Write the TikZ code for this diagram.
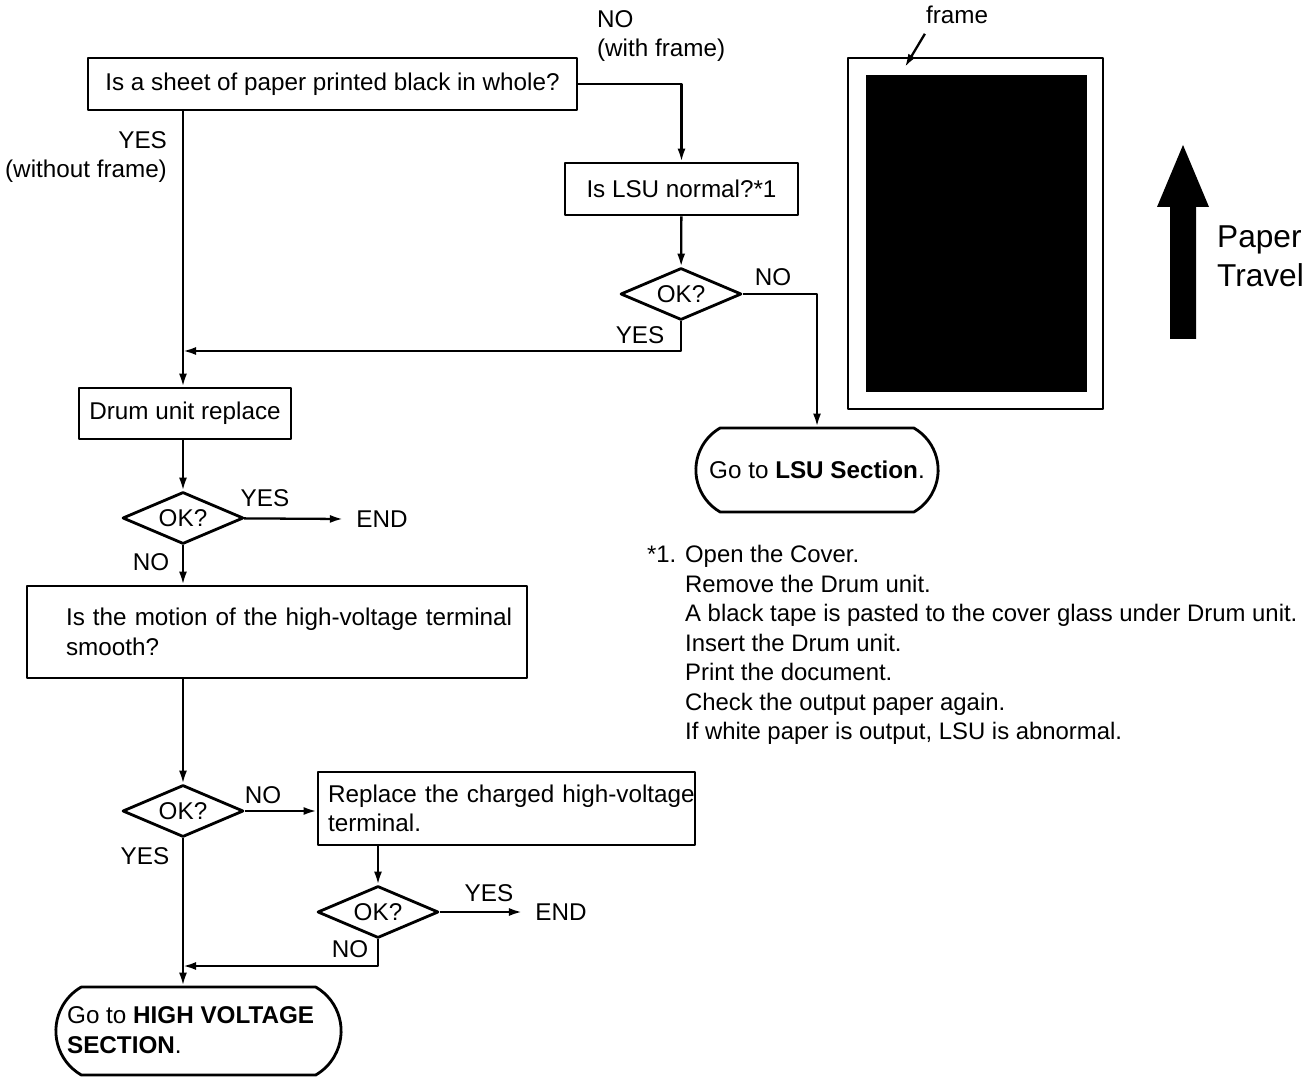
\documentclass[tikz,border=0pt]{standalone}
\usepackage{fontspec}
\setmainfont{Liberation Sans}
\usetikzlibrary{shapes.geometric,shapes.misc,arrows.meta}
\tikzset{
  box/.style={draw,line width=1.6pt},
  okbox/.style={diamond,draw,line width=1.6pt,aspect=2.3,inner sep=0pt,minimum width=2.42cm,minimum height=1.04cm},
  gotobox/.style={rounded rectangle,rounded rectangle arc length=120,draw,line width=1.6pt},
  lbl/.style={inner sep=0pt}
}
\begin{document}
\begin{tikzpicture}[x=0.02cm,y=-0.02cm,>={Latex[length=2.6mm,width=1.6mm]},line width=1.3pt,
  font=\fontsize{13.8}{16.8}\selectfont,line join=round]
\useasboundingbox (0,0) rectangle (1311,1077);
\path
  (183,351) coordinate (j1)
  (183,966) coordinate (j2)
  (905,67) coordinate (frametip)
  ;
% flow chart
\node[box,minimum width=9.78cm,minimum height=1.04cm] (sheet) at (332.5,84) {Is a sheet of paper printed black in whole?};
\node[box,minimum width=4.66cm,minimum height=1.04cm] (lsu) at (681.5,189) {Is LSU normal?*1};
\node[okbox] (ok1) at (681,294) {OK?};
\node[gotobox,minimum width=5.08cm,minimum height=1.68cm] (lsusec) at (817,470) {Go to \textbf{LSU Section}.};
\node[box,minimum width=4.24cm,minimum height=1.02cm] (drum) at (185,413.5) {Drum unit replace};
\node[okbox] (ok2) at (183,518) {OK?};
\node[lbl] (end1) at (382,519) {END};
\node[box,text width=8.44cm,inner xsep=0.78cm,minimum height=1.84cm,align=left] (smooth) at (277,632) {\mbox{Is the motion of the high-voltage terminal}\\smooth?};
\node[okbox] (ok3) at (183,811) {OK?};
\node[box,text width=7.14cm,inner xsep=0.2cm,minimum height=1.46cm,align=left] (charge) at (506.5,808.5) {\mbox{Replace the charged high-voltage}\\terminal.};
\node[okbox] (ok4) at (378,912) {OK?};
\node[lbl] (end2) at (561,912) {END};
\node[gotobox,minimum width=5.94cm,minimum height=1.76cm] (hv) at (198.5,1031) {};
\node[lbl,anchor=west,align=left] (hvtext) at (66,1030) {Go to \textbf{HIGH VOLTAGE}\\\textbf{SECTION}.};

\draw[->] (sheet.south -| ok2) -- (ok2.north |- drum.north);
\draw[->] (sheet.east) -| (lsu);
\draw[->] (lsu) -- (ok1);
\draw[->] (ok1.south) |- (j1);
\draw[->] (ok1.east) -| (lsusec);
\draw[->] (drum.south -| ok2) -- (ok2);
\draw[->] (ok2) -- ([xshift=-7pt]end1.west);
\draw[->] (ok2) -- (smooth.north -| ok2);
\draw[->] (smooth.south -| ok3) -- (ok3);
\draw[->] (ok3.east) -- (ok3.east -| charge.west);
\draw[->] (charge.south -| ok4) -- (ok4);
\draw[->] (ok4) -- ([xshift=-7pt]end2.west);
\draw[->] (ok4.south) |- (j2);
\draw[->] (ok3) -- (hv.north -| ok3);

% answers
\node[lbl,anchor=west,align=left] (nofr) at (596,36) {NO\\(with frame)};
\node[lbl,anchor=east,align=right] (yesfr) at (168,157) {YES\\(without frame)};
\foreach \x/\y/\t in {773/277/NO,640/335/YES,265/498/YES,151/562/NO,263/795/NO,145/856/YES,489/893/YES,350/949/NO}
  \node[lbl] (ans\x) at (\x,\y) {\t};

% sheet with frame
\draw[line width=1.6pt] (848,58) rectangle (1103,409);
\fill (866,75) rectangle (1087,392);
\node[lbl] (frame) at (957,15) {frame};
\draw[->] ([yshift=-5pt]frame.south west) -- (frametip);
\fill (1170,339) -- (1170,207) -- (1157,207) -- (1183,145) -- (1209,207) -- (1196,207) -- (1196,339) -- cycle;
\node[lbl,anchor=west,align=left,font=\fontsize{18}{22}\selectfont] (travel) at (1216,256) {Paper\\Travel};

% note *1
\node[lbl,anchor=north west] (note) at (646,541) {\fontsize{13.6}{16.8}\selectfont\begin{tabular}{@{}l@{\hspace{5pt}}l@{}}
*1. & Open the Cover.\\
 & Remove the Drum unit.\\
 & A black tape is pasted to the cover glass under Drum unit.\\
 & Insert the Drum unit.\\
 & Print the document.\\
 & Check the output paper again.\\
 & If white paper is output, LSU is abnormal.
\end{tabular}};
\end{tikzpicture}
\end{document}
